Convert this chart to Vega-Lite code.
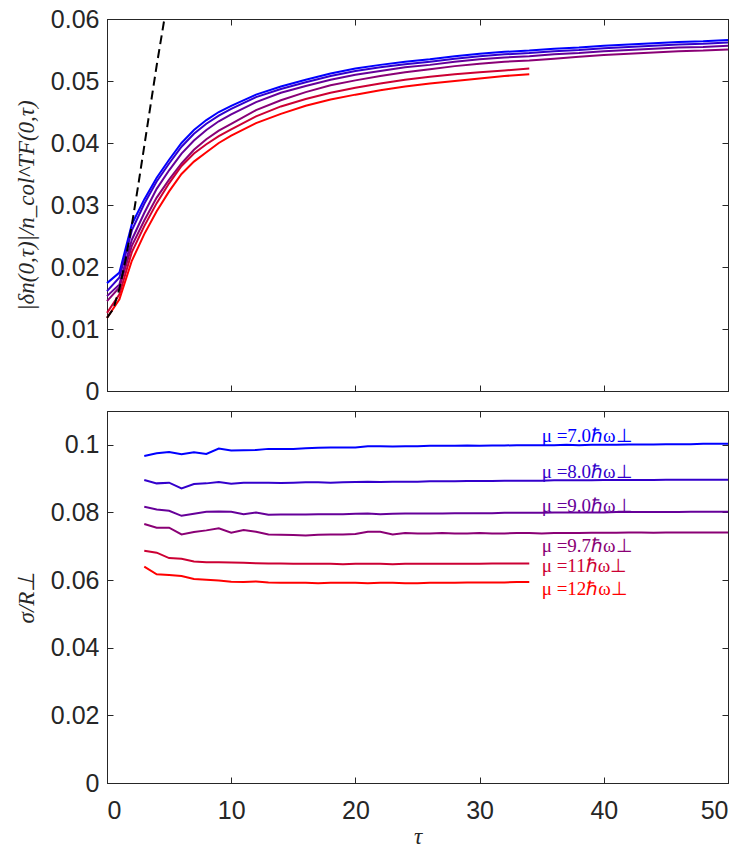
{
  "$schema": "https://vega.github.io/schema/vega-lite/v6.json",
  "padding": {"left": 14, "top": 6, "right": 10, "bottom": 2},
  "spacing": 5,
  "background": "white",
  "config": {
    "view": {"stroke": "#262626", "strokeWidth": 1},
    "axis": {
      "grid": false,
      "domainColor": "#262626",
      "tickColor": "#262626",
      "tickSize": -6,
      "labelFont": "Liberation Sans",
      "labelFontSize": 25,
      "labelColor": "#262626",
      "labelPadding": 14,
      "titleFont": "Liberation Serif",
      "titleFontWeight": "normal",
      "titleFontStyle": "italic",
      "titleFontSize": 23,
      "titleColor": "#262626",
      "titlePadding": 12
    }
  },
  "datasets": {
    "top": [
      {"t": 0, "v": 0.0174, "m": "7.0"}, {"t": 1, "v": 0.0191, "m": "7.0"}, {"t": 2, "v": 0.0269, "m": "7.0"}, {"t": 3, "v": 0.0309, "m": "7.0"},
      {"t": 4, "v": 0.0344, "m": "7.0"}, {"t": 5, "v": 0.0373, "m": "7.0"}, {"t": 6, "v": 0.0400, "m": "7.0"}, {"t": 7, "v": 0.0421, "m": "7.0"},
      {"t": 8, "v": 0.0437, "m": "7.0"}, {"t": 9, "v": 0.0450, "m": "7.0"}, {"t": 10, "v": 0.0460, "m": "7.0"}, {"t": 12, "v": 0.0478, "m": "7.0"},
      {"t": 14, "v": 0.0491, "m": "7.0"}, {"t": 16, "v": 0.0502, "m": "7.0"}, {"t": 18, "v": 0.0512, "m": "7.0"}, {"t": 20, "v": 0.0520, "m": "7.0"},
      {"t": 22, "v": 0.0526, "m": "7.0"}, {"t": 24, "v": 0.0531, "m": "7.0"}, {"t": 26, "v": 0.0535, "m": "7.0"}, {"t": 28, "v": 0.0540, "m": "7.0"},
      {"t": 30, "v": 0.0544, "m": "7.0"}, {"t": 32, "v": 0.0547, "m": "7.0"}, {"t": 34, "v": 0.0549, "m": "7.0"}, {"t": 36, "v": 0.0552, "m": "7.0"},
      {"t": 38, "v": 0.0554, "m": "7.0"}, {"t": 40, "v": 0.0557, "m": "7.0"}, {"t": 42, "v": 0.0559, "m": "7.0"}, {"t": 44, "v": 0.0561, "m": "7.0"},
      {"t": 46, "v": 0.0563, "m": "7.0"}, {"t": 48, "v": 0.0564, "m": "7.0"}, {"t": 50, "v": 0.0566, "m": "7.0"},

      {"t": 0, "v": 0.0161, "m": "8.0"}, {"t": 1, "v": 0.0183, "m": "8.0"}, {"t": 2, "v": 0.0259, "m": "8.0"}, {"t": 3, "v": 0.0302, "m": "8.0"},
      {"t": 4, "v": 0.0338, "m": "8.0"}, {"t": 5, "v": 0.0367, "m": "8.0"}, {"t": 6, "v": 0.0394, "m": "8.0"}, {"t": 7, "v": 0.0415, "m": "8.0"},
      {"t": 8, "v": 0.0431, "m": "8.0"}, {"t": 9, "v": 0.0444, "m": "8.0"}, {"t": 10, "v": 0.0455, "m": "8.0"}, {"t": 12, "v": 0.0474, "m": "8.0"},
      {"t": 14, "v": 0.0487, "m": "8.0"}, {"t": 16, "v": 0.0498, "m": "8.0"}, {"t": 18, "v": 0.0508, "m": "8.0"}, {"t": 20, "v": 0.0516, "m": "8.0"},
      {"t": 22, "v": 0.0522, "m": "8.0"}, {"t": 24, "v": 0.0527, "m": "8.0"}, {"t": 26, "v": 0.0531, "m": "8.0"}, {"t": 28, "v": 0.0536, "m": "8.0"},
      {"t": 30, "v": 0.0540, "m": "8.0"}, {"t": 32, "v": 0.0543, "m": "8.0"}, {"t": 34, "v": 0.0545, "m": "8.0"}, {"t": 36, "v": 0.0548, "m": "8.0"},
      {"t": 38, "v": 0.0550, "m": "8.0"}, {"t": 40, "v": 0.0553, "m": "8.0"}, {"t": 42, "v": 0.0555, "m": "8.0"}, {"t": 44, "v": 0.0557, "m": "8.0"},
      {"t": 46, "v": 0.0559, "m": "8.0"}, {"t": 48, "v": 0.0560, "m": "8.0"}, {"t": 50, "v": 0.0562, "m": "8.0"},

      {"t": 0, "v": 0.0153, "m": "9.0"}, {"t": 1, "v": 0.0172, "m": "9.0"}, {"t": 2, "v": 0.0244, "m": "9.0"}, {"t": 3, "v": 0.0287, "m": "9.0"},
      {"t": 4, "v": 0.0326, "m": "9.0"}, {"t": 5, "v": 0.0356, "m": "9.0"}, {"t": 6, "v": 0.0383, "m": "9.0"}, {"t": 7, "v": 0.0404, "m": "9.0"},
      {"t": 8, "v": 0.0421, "m": "9.0"}, {"t": 9, "v": 0.0435, "m": "9.0"}, {"t": 10, "v": 0.0446, "m": "9.0"}, {"t": 12, "v": 0.0466, "m": "9.0"},
      {"t": 14, "v": 0.0481, "m": "9.0"}, {"t": 16, "v": 0.0492, "m": "9.0"}, {"t": 18, "v": 0.0502, "m": "9.0"}, {"t": 20, "v": 0.0510, "m": "9.0"},
      {"t": 22, "v": 0.0516, "m": "9.0"}, {"t": 24, "v": 0.0522, "m": "9.0"}, {"t": 26, "v": 0.0526, "m": "9.0"}, {"t": 28, "v": 0.0531, "m": "9.0"},
      {"t": 30, "v": 0.0535, "m": "9.0"}, {"t": 32, "v": 0.0538, "m": "9.0"}, {"t": 34, "v": 0.0540, "m": "9.0"}, {"t": 36, "v": 0.0543, "m": "9.0"},
      {"t": 38, "v": 0.0545, "m": "9.0"}, {"t": 40, "v": 0.0548, "m": "9.0"}, {"t": 42, "v": 0.0550, "m": "9.0"}, {"t": 44, "v": 0.0552, "m": "9.0"},
      {"t": 46, "v": 0.0554, "m": "9.0"}, {"t": 48, "v": 0.0555, "m": "9.0"}, {"t": 50, "v": 0.0557, "m": "9.0"},

      {"t": 0, "v": 0.0145, "m": "9.7"}, {"t": 1, "v": 0.0167, "m": "9.7"}, {"t": 2, "v": 0.0234, "m": "9.7"}, {"t": 3, "v": 0.0275, "m": "9.7"},
      {"t": 4, "v": 0.0312, "m": "9.7"}, {"t": 5, "v": 0.0341, "m": "9.7"}, {"t": 6, "v": 0.0367, "m": "9.7"}, {"t": 7, "v": 0.0389, "m": "9.7"},
      {"t": 8, "v": 0.0406, "m": "9.7"}, {"t": 9, "v": 0.0420, "m": "9.7"}, {"t": 10, "v": 0.0431, "m": "9.7"}, {"t": 12, "v": 0.0453, "m": "9.7"},
      {"t": 14, "v": 0.0469, "m": "9.7"}, {"t": 16, "v": 0.0482, "m": "9.7"}, {"t": 18, "v": 0.0493, "m": "9.7"}, {"t": 20, "v": 0.0501, "m": "9.7"},
      {"t": 22, "v": 0.0508, "m": "9.7"}, {"t": 24, "v": 0.0514, "m": "9.7"}, {"t": 26, "v": 0.0519, "m": "9.7"}, {"t": 28, "v": 0.0524, "m": "9.7"},
      {"t": 30, "v": 0.0528, "m": "9.7"}, {"t": 32, "v": 0.0531, "m": "9.7"}, {"t": 34, "v": 0.0533, "m": "9.7"}, {"t": 36, "v": 0.0536, "m": "9.7"},
      {"t": 38, "v": 0.0539, "m": "9.7"}, {"t": 40, "v": 0.0542, "m": "9.7"}, {"t": 42, "v": 0.0544, "m": "9.7"}, {"t": 44, "v": 0.0546, "m": "9.7"},
      {"t": 46, "v": 0.0548, "m": "9.7"}, {"t": 48, "v": 0.0549, "m": "9.7"}, {"t": 50, "v": 0.0551, "m": "9.7"},

      {"t": 0, "v": 0.0126, "m": "11"}, {"t": 1, "v": 0.0156, "m": "11"}, {"t": 2, "v": 0.0224, "m": "11"}, {"t": 3, "v": 0.0266, "m": "11"},
      {"t": 4, "v": 0.0303, "m": "11"}, {"t": 5, "v": 0.0335, "m": "11"}, {"t": 6, "v": 0.0363, "m": "11"}, {"t": 7, "v": 0.0383, "m": "11"},
      {"t": 8, "v": 0.0398, "m": "11"}, {"t": 9, "v": 0.0411, "m": "11"}, {"t": 10, "v": 0.0422, "m": "11"}, {"t": 12, "v": 0.0443, "m": "11"},
      {"t": 14, "v": 0.0459, "m": "11"}, {"t": 16, "v": 0.0471, "m": "11"}, {"t": 18, "v": 0.0481, "m": "11"}, {"t": 20, "v": 0.0489, "m": "11"},
      {"t": 22, "v": 0.0496, "m": "11"}, {"t": 24, "v": 0.0502, "m": "11"}, {"t": 26, "v": 0.0507, "m": "11"}, {"t": 28, "v": 0.0511, "m": "11"},
      {"t": 30, "v": 0.0514, "m": "11"}, {"t": 32, "v": 0.0517, "m": "11"}, {"t": 34, "v": 0.0520, "m": "11"},

      {"t": 0, "v": 0.0118, "m": "12"}, {"t": 1, "v": 0.0148, "m": "12"}, {"t": 2, "v": 0.0210, "m": "12"}, {"t": 3, "v": 0.0253, "m": "12"},
      {"t": 4, "v": 0.0290, "m": "12"}, {"t": 5, "v": 0.0322, "m": "12"}, {"t": 6, "v": 0.0350, "m": "12"}, {"t": 7, "v": 0.0370, "m": "12"},
      {"t": 8, "v": 0.0385, "m": "12"}, {"t": 9, "v": 0.0400, "m": "12"}, {"t": 10, "v": 0.0412, "m": "12"}, {"t": 12, "v": 0.0432, "m": "12"},
      {"t": 14, "v": 0.0447, "m": "12"}, {"t": 16, "v": 0.0460, "m": "12"}, {"t": 18, "v": 0.0470, "m": "12"}, {"t": 20, "v": 0.0478, "m": "12"},
      {"t": 22, "v": 0.0485, "m": "12"}, {"t": 24, "v": 0.0491, "m": "12"}, {"t": 26, "v": 0.0496, "m": "12"}, {"t": 28, "v": 0.0500, "m": "12"},
      {"t": 30, "v": 0.0504, "m": "12"}, {"t": 32, "v": 0.0508, "m": "12"}, {"t": 34, "v": 0.0511, "m": "12"}
    ],
    "dash": [
      {"t": 0, "v": 0.0118}, {"t": 0.5, "v": 0.0132}, {"t": 1, "v": 0.0165}, {"t": 1.5, "v": 0.0212},
      {"t": 2, "v": 0.0268}, {"t": 2.5, "v": 0.0330}, {"t": 3, "v": 0.0395}, {"t": 3.5, "v": 0.0460},
      {"t": 4, "v": 0.0525}, {"t": 4.62, "v": 0.0600}
    ],
    "bottom": [
      {"t": 3, "v": 0.0967, "m": "7.0"}, {"t": 4, "v": 0.0975, "m": "7.0"}, {"t": 5, "v": 0.0979, "m": "7.0"}, {"t": 6, "v": 0.0972, "m": "7.0"},
      {"t": 7, "v": 0.0978, "m": "7.0"}, {"t": 8, "v": 0.0973, "m": "7.0"}, {"t": 9, "v": 0.0989, "m": "7.0"}, {"t": 10, "v": 0.0983, "m": "7.0"},
      {"t": 11, "v": 0.0984, "m": "7.0"}, {"t": 12, "v": 0.0985, "m": "7.0"}, {"t": 13, "v": 0.0988, "m": "7.0"}, {"t": 14, "v": 0.0988, "m": "7.0"},
      {"t": 15, "v": 0.0988, "m": "7.0"}, {"t": 16, "v": 0.0990, "m": "7.0"}, {"t": 17, "v": 0.0991, "m": "7.0"}, {"t": 18, "v": 0.0992, "m": "7.0"},
      {"t": 19, "v": 0.0992, "m": "7.0"}, {"t": 20, "v": 0.0992, "m": "7.0"}, {"t": 21, "v": 0.0996, "m": "7.0"}, {"t": 22, "v": 0.0996, "m": "7.0"},
      {"t": 23, "v": 0.0995, "m": "7.0"}, {"t": 24, "v": 0.0996, "m": "7.0"}, {"t": 25, "v": 0.0996, "m": "7.0"}, {"t": 26, "v": 0.0997, "m": "7.0"},
      {"t": 27, "v": 0.0997, "m": "7.0"}, {"t": 28, "v": 0.0997, "m": "7.0"}, {"t": 29, "v": 0.0998, "m": "7.0"}, {"t": 30, "v": 0.0997, "m": "7.0"},
      {"t": 31, "v": 0.0998, "m": "7.0"}, {"t": 32, "v": 0.0998, "m": "7.0"}, {"t": 33, "v": 0.0999, "m": "7.0"}, {"t": 34, "v": 0.0999, "m": "7.0"},
      {"t": 35, "v": 0.0999, "m": "7.0"}, {"t": 36, "v": 0.0999, "m": "7.0"}, {"t": 37, "v": 0.1000, "m": "7.0"}, {"t": 38, "v": 0.0999, "m": "7.0"},
      {"t": 39, "v": 0.1000, "m": "7.0"}, {"t": 40, "v": 0.1000, "m": "7.0"}, {"t": 41, "v": 0.1000, "m": "7.0"}, {"t": 42, "v": 0.1001, "m": "7.0"},
      {"t": 43, "v": 0.1001, "m": "7.0"}, {"t": 44, "v": 0.1001, "m": "7.0"}, {"t": 45, "v": 0.1002, "m": "7.0"}, {"t": 46, "v": 0.1002, "m": "7.0"},
      {"t": 47, "v": 0.1002, "m": "7.0"}, {"t": 48, "v": 0.1003, "m": "7.0"}, {"t": 49, "v": 0.1003, "m": "7.0"}, {"t": 50, "v": 0.1003, "m": "7.0"},

      {"t": 3, "v": 0.0896, "m": "8.0"}, {"t": 4, "v": 0.0886, "m": "8.0"}, {"t": 5, "v": 0.0888, "m": "8.0"}, {"t": 6, "v": 0.0871, "m": "8.0"},
      {"t": 7, "v": 0.0884, "m": "8.0"}, {"t": 8, "v": 0.0886, "m": "8.0"}, {"t": 9, "v": 0.0890, "m": "8.0"}, {"t": 10, "v": 0.0885, "m": "8.0"},
      {"t": 11, "v": 0.0888, "m": "8.0"}, {"t": 12, "v": 0.0888, "m": "8.0"}, {"t": 13, "v": 0.0888, "m": "8.0"}, {"t": 14, "v": 0.0887, "m": "8.0"},
      {"t": 15, "v": 0.0888, "m": "8.0"}, {"t": 16, "v": 0.0889, "m": "8.0"}, {"t": 17, "v": 0.0889, "m": "8.0"}, {"t": 18, "v": 0.0888, "m": "8.0"},
      {"t": 19, "v": 0.0889, "m": "8.0"}, {"t": 20, "v": 0.0890, "m": "8.0"}, {"t": 21, "v": 0.0891, "m": "8.0"}, {"t": 22, "v": 0.0890, "m": "8.0"},
      {"t": 23, "v": 0.0891, "m": "8.0"}, {"t": 24, "v": 0.0891, "m": "8.0"}, {"t": 25, "v": 0.0891, "m": "8.0"}, {"t": 26, "v": 0.0892, "m": "8.0"},
      {"t": 27, "v": 0.0892, "m": "8.0"}, {"t": 28, "v": 0.0892, "m": "8.0"}, {"t": 29, "v": 0.0893, "m": "8.0"}, {"t": 30, "v": 0.0893, "m": "8.0"},
      {"t": 31, "v": 0.0893, "m": "8.0"}, {"t": 32, "v": 0.0894, "m": "8.0"}, {"t": 33, "v": 0.0894, "m": "8.0"}, {"t": 34, "v": 0.0894, "m": "8.0"},
      {"t": 35, "v": 0.0894, "m": "8.0"}, {"t": 36, "v": 0.0895, "m": "8.0"}, {"t": 37, "v": 0.0895, "m": "8.0"}, {"t": 38, "v": 0.0895, "m": "8.0"},
      {"t": 39, "v": 0.0895, "m": "8.0"}, {"t": 40, "v": 0.0896, "m": "8.0"}, {"t": 41, "v": 0.0896, "m": "8.0"}, {"t": 42, "v": 0.0896, "m": "8.0"},
      {"t": 43, "v": 0.0896, "m": "8.0"}, {"t": 44, "v": 0.0896, "m": "8.0"}, {"t": 45, "v": 0.0897, "m": "8.0"}, {"t": 46, "v": 0.0897, "m": "8.0"},
      {"t": 47, "v": 0.0897, "m": "8.0"}, {"t": 48, "v": 0.0897, "m": "8.0"}, {"t": 49, "v": 0.0897, "m": "8.0"}, {"t": 50, "v": 0.0897, "m": "8.0"},

      {"t": 3, "v": 0.0817, "m": "9.0"}, {"t": 4, "v": 0.0809, "m": "9.0"}, {"t": 5, "v": 0.0805, "m": "9.0"}, {"t": 6, "v": 0.0790, "m": "9.0"},
      {"t": 7, "v": 0.0796, "m": "9.0"}, {"t": 8, "v": 0.0802, "m": "9.0"}, {"t": 9, "v": 0.0803, "m": "9.0"}, {"t": 10, "v": 0.0802, "m": "9.0"},
      {"t": 11, "v": 0.0795, "m": "9.0"}, {"t": 12, "v": 0.0800, "m": "9.0"}, {"t": 13, "v": 0.0793, "m": "9.0"}, {"t": 14, "v": 0.0794, "m": "9.0"},
      {"t": 15, "v": 0.0794, "m": "9.0"}, {"t": 16, "v": 0.0794, "m": "9.0"}, {"t": 17, "v": 0.0795, "m": "9.0"}, {"t": 18, "v": 0.0795, "m": "9.0"},
      {"t": 19, "v": 0.0795, "m": "9.0"}, {"t": 20, "v": 0.0796, "m": "9.0"}, {"t": 21, "v": 0.0797, "m": "9.0"}, {"t": 22, "v": 0.0795, "m": "9.0"},
      {"t": 23, "v": 0.0796, "m": "9.0"}, {"t": 24, "v": 0.0797, "m": "9.0"}, {"t": 25, "v": 0.0797, "m": "9.0"}, {"t": 26, "v": 0.0797, "m": "9.0"},
      {"t": 27, "v": 0.0797, "m": "9.0"}, {"t": 28, "v": 0.0798, "m": "9.0"}, {"t": 29, "v": 0.0798, "m": "9.0"}, {"t": 30, "v": 0.0798, "m": "9.0"},
      {"t": 31, "v": 0.0798, "m": "9.0"}, {"t": 32, "v": 0.0799, "m": "9.0"}, {"t": 33, "v": 0.0799, "m": "9.0"}, {"t": 34, "v": 0.0799, "m": "9.0"},
      {"t": 35, "v": 0.0799, "m": "9.0"}, {"t": 36, "v": 0.0800, "m": "9.0"}, {"t": 37, "v": 0.0800, "m": "9.0"}, {"t": 38, "v": 0.0800, "m": "9.0"},
      {"t": 39, "v": 0.0800, "m": "9.0"}, {"t": 40, "v": 0.0800, "m": "9.0"}, {"t": 41, "v": 0.0801, "m": "9.0"}, {"t": 42, "v": 0.0801, "m": "9.0"},
      {"t": 43, "v": 0.0801, "m": "9.0"}, {"t": 44, "v": 0.0801, "m": "9.0"}, {"t": 45, "v": 0.0801, "m": "9.0"}, {"t": 46, "v": 0.0801, "m": "9.0"},
      {"t": 47, "v": 0.0802, "m": "9.0"}, {"t": 48, "v": 0.0802, "m": "9.0"}, {"t": 49, "v": 0.0802, "m": "9.0"}, {"t": 50, "v": 0.0802, "m": "9.0"},

      {"t": 3, "v": 0.0766, "m": "9.7"}, {"t": 4, "v": 0.0755, "m": "9.7"}, {"t": 5, "v": 0.0755, "m": "9.7"}, {"t": 6, "v": 0.0735, "m": "9.7"},
      {"t": 7, "v": 0.0742, "m": "9.7"}, {"t": 8, "v": 0.0747, "m": "9.7"}, {"t": 9, "v": 0.0753, "m": "9.7"}, {"t": 10, "v": 0.0740, "m": "9.7"},
      {"t": 11, "v": 0.0748, "m": "9.7"}, {"t": 12, "v": 0.0743, "m": "9.7"}, {"t": 13, "v": 0.0735, "m": "9.7"}, {"t": 14, "v": 0.0734, "m": "9.7"},
      {"t": 15, "v": 0.0733, "m": "9.7"}, {"t": 16, "v": 0.0732, "m": "9.7"}, {"t": 17, "v": 0.0734, "m": "9.7"}, {"t": 18, "v": 0.0735, "m": "9.7"},
      {"t": 19, "v": 0.0735, "m": "9.7"}, {"t": 20, "v": 0.0736, "m": "9.7"}, {"t": 21, "v": 0.0743, "m": "9.7"}, {"t": 22, "v": 0.0743, "m": "9.7"},
      {"t": 23, "v": 0.0735, "m": "9.7"}, {"t": 24, "v": 0.0739, "m": "9.7"}, {"t": 25, "v": 0.0738, "m": "9.7"}, {"t": 26, "v": 0.0738, "m": "9.7"},
      {"t": 27, "v": 0.0739, "m": "9.7"}, {"t": 28, "v": 0.0738, "m": "9.7"}, {"t": 29, "v": 0.0738, "m": "9.7"}, {"t": 30, "v": 0.0739, "m": "9.7"},
      {"t": 31, "v": 0.0738, "m": "9.7"}, {"t": 32, "v": 0.0738, "m": "9.7"}, {"t": 33, "v": 0.0739, "m": "9.7"}, {"t": 34, "v": 0.0739, "m": "9.7"},
      {"t": 35, "v": 0.0738, "m": "9.7"}, {"t": 36, "v": 0.0739, "m": "9.7"}, {"t": 37, "v": 0.0739, "m": "9.7"}, {"t": 38, "v": 0.0739, "m": "9.7"},
      {"t": 39, "v": 0.0740, "m": "9.7"}, {"t": 40, "v": 0.0740, "m": "9.7"}, {"t": 41, "v": 0.0740, "m": "9.7"}, {"t": 42, "v": 0.0741, "m": "9.7"},
      {"t": 43, "v": 0.0741, "m": "9.7"}, {"t": 44, "v": 0.0740, "m": "9.7"}, {"t": 45, "v": 0.0741, "m": "9.7"}, {"t": 46, "v": 0.0741, "m": "9.7"},
      {"t": 47, "v": 0.0741, "m": "9.7"}, {"t": 48, "v": 0.0741, "m": "9.7"}, {"t": 49, "v": 0.0741, "m": "9.7"}, {"t": 50, "v": 0.0741, "m": "9.7"},

      {"t": 3, "v": 0.0687, "m": "11"}, {"t": 4, "v": 0.0681, "m": "11"}, {"t": 5, "v": 0.0665, "m": "11"}, {"t": 6, "v": 0.0663, "m": "11"},
      {"t": 7, "v": 0.0655, "m": "11"}, {"t": 8, "v": 0.0653, "m": "11"}, {"t": 9, "v": 0.0653, "m": "11"}, {"t": 10, "v": 0.0652, "m": "11"},
      {"t": 11, "v": 0.0651, "m": "11"}, {"t": 12, "v": 0.0650, "m": "11"}, {"t": 13, "v": 0.0649, "m": "11"}, {"t": 14, "v": 0.0649, "m": "11"},
      {"t": 15, "v": 0.0648, "m": "11"}, {"t": 16, "v": 0.0648, "m": "11"}, {"t": 17, "v": 0.0648, "m": "11"}, {"t": 18, "v": 0.0648, "m": "11"},
      {"t": 19, "v": 0.0647, "m": "11"}, {"t": 20, "v": 0.0648, "m": "11"}, {"t": 21, "v": 0.0648, "m": "11"}, {"t": 22, "v": 0.0648, "m": "11"},
      {"t": 23, "v": 0.0647, "m": "11"}, {"t": 24, "v": 0.0648, "m": "11"}, {"t": 25, "v": 0.0648, "m": "11"}, {"t": 26, "v": 0.0648, "m": "11"},
      {"t": 27, "v": 0.0648, "m": "11"}, {"t": 28, "v": 0.0648, "m": "11"}, {"t": 29, "v": 0.0648, "m": "11"}, {"t": 30, "v": 0.0648, "m": "11"},
      {"t": 31, "v": 0.0649, "m": "11"}, {"t": 32, "v": 0.0649, "m": "11"}, {"t": 33, "v": 0.0649, "m": "11"}, {"t": 34, "v": 0.0649, "m": "11"},

      {"t": 3, "v": 0.0640, "m": "12"}, {"t": 4, "v": 0.0617, "m": "12"}, {"t": 5, "v": 0.0615, "m": "12"}, {"t": 6, "v": 0.0612, "m": "12"},
      {"t": 7, "v": 0.0603, "m": "12"}, {"t": 8, "v": 0.0601, "m": "12"}, {"t": 9, "v": 0.0599, "m": "12"}, {"t": 10, "v": 0.0595, "m": "12"},
      {"t": 11, "v": 0.0594, "m": "12"}, {"t": 12, "v": 0.0596, "m": "12"}, {"t": 13, "v": 0.0593, "m": "12"}, {"t": 14, "v": 0.0592, "m": "12"},
      {"t": 15, "v": 0.0592, "m": "12"}, {"t": 16, "v": 0.0592, "m": "12"}, {"t": 17, "v": 0.0591, "m": "12"}, {"t": 18, "v": 0.0592, "m": "12"},
      {"t": 19, "v": 0.0592, "m": "12"}, {"t": 20, "v": 0.0592, "m": "12"}, {"t": 21, "v": 0.0591, "m": "12"}, {"t": 22, "v": 0.0592, "m": "12"},
      {"t": 23, "v": 0.0592, "m": "12"}, {"t": 24, "v": 0.0591, "m": "12"}, {"t": 25, "v": 0.0591, "m": "12"}, {"t": 26, "v": 0.0592, "m": "12"},
      {"t": 27, "v": 0.0592, "m": "12"}, {"t": 28, "v": 0.0592, "m": "12"}, {"t": 29, "v": 0.0593, "m": "12"}, {"t": 30, "v": 0.0593, "m": "12"},
      {"t": 31, "v": 0.0593, "m": "12"}, {"t": 32, "v": 0.0593, "m": "12"}, {"t": 33, "v": 0.0594, "m": "12"}, {"t": 34, "v": 0.0594, "m": "12"}
    ],
    "labels": [
      {"t": 35, "v": 0.1026, "m": "7.0", "label": "μ =7.0ℏω⊥"},
      {"t": 35, "v": 0.0921, "m": "8.0", "label": "μ =8.0ℏω⊥"},
      {"t": 35, "v": 0.0820, "m": "9.0", "label": "μ =9.0ℏω⊥"},
      {"t": 35, "v": 0.0702, "m": "9.7", "label": "μ =9.7ℏω⊥"},
      {"t": 35, "v": 0.0643, "m": "11", "label": "μ =11ℏω⊥"},
      {"t": 35, "v": 0.0575, "m": "12", "label": "μ =12ℏω⊥"}
    ]
  },
  "vconcat": [
    {
      "width": 621,
      "height": 372,
      "layer": [
        {
          "data": {"name": "top"},
          "mark": {"type": "line", "strokeWidth": 2},
          "encoding": {
            "x": {"field": "t", "type": "quantitative", "scale": {"domain": [0, 50]},
                  "axis": {"values": [0, 10, 20, 30, 40, 50], "labels": false, "title": null}},
            "y": {"field": "v", "type": "quantitative", "scale": {"domain": [0, 0.06]},
                  "axis": {"values": [0, 0.01, 0.02, 0.03, 0.04, 0.05, 0.06], "format": "~g",
                           "title": "|δn(0,τ)|/n_col^TF(0,τ)"}},
            "color": {"field": "m", "type": "nominal", "legend": null,
                      "scale": {"domain": ["7.0", "8.0", "9.0", "9.7", "11", "12"],
                                "range": ["#0000ff", "#3300cc", "#660099", "#8a0075", "#cc0033", "#ff0000"]}}
          }
        },
        {
          "data": {"name": "dash"},
          "mark": {"type": "line", "color": "black", "strokeWidth": 2, "strokeDash": [9, 5]},
          "encoding": {
            "x": {"field": "t", "type": "quantitative",
                  "axis": {"orient": "top", "values": [0, 10, 20, 30, 40, 50], "labels": false, "title": null}},
            "y": {"field": "v", "type": "quantitative",
                  "axis": {"orient": "right", "values": [0, 0.01, 0.02, 0.03, 0.04, 0.05, 0.06], "labels": false, "title": null}}
          }
        }
      ],
      "resolve": {"axis": {"x": "independent", "y": "independent"}}
    },
    {
      "width": 621,
      "height": 372,
      "layer": [
        {
          "data": {"name": "bottom"},
          "mark": {"type": "line", "strokeWidth": 2},
          "encoding": {
            "x": {"field": "t", "type": "quantitative", "scale": {"domain": [0, 50]},
                  "axis": {"values": [0, 10, 20, 30, 40, 50], "title": "τ", "labelPadding": 21, "titlePadding": 2}},
            "y": {"field": "v", "type": "quantitative", "scale": {"domain": [0, 0.11]},
                  "axis": {"values": [0, 0.02, 0.04, 0.06, 0.08, 0.1], "format": "~g", "title": "σ/R⊥"}},
            "color": {"field": "m", "type": "nominal", "legend": null,
                      "scale": {"domain": ["7.0", "8.0", "9.0", "9.7", "11", "12"],
                                "range": ["#0000ff", "#3300cc", "#660099", "#8a0075", "#cc0033", "#ff0000"]}}
          }
        },
        {
          "data": {"name": "labels"},
          "mark": {"type": "text", "align": "left", "baseline": "middle", "font": "Liberation Serif", "fontSize": 19},
          "encoding": {
            "x": {"field": "t", "type": "quantitative",
                  "axis": {"orient": "top", "values": [0, 10, 20, 30, 40, 50], "labels": false, "title": null}},
            "y": {"field": "v", "type": "quantitative",
                  "axis": {"orient": "right", "values": [0, 0.02, 0.04, 0.06, 0.08, 0.1], "labels": false, "title": null}},
            "text": {"field": "label"},
            "color": {"field": "m", "type": "nominal", "legend": null,
                      "scale": {"domain": ["7.0", "8.0", "9.0", "9.7", "11", "12"],
                                "range": ["#0000ff", "#3300cc", "#660099", "#8a0075", "#cc0033", "#ff0000"]}}
          }
        }
      ],
      "resolve": {"axis": {"x": "independent", "y": "independent"}}
    }
  ]
}
